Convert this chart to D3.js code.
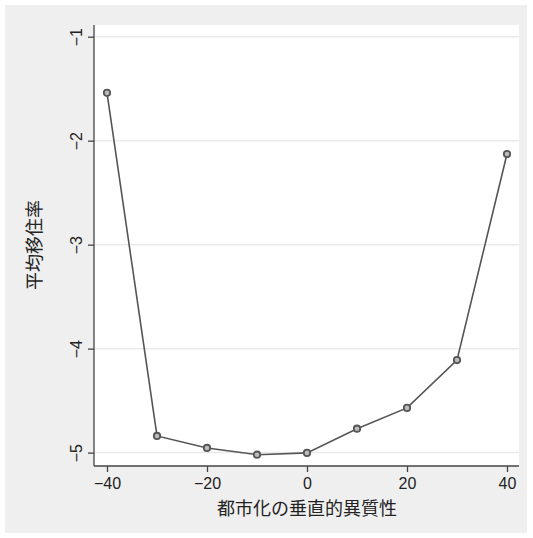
<!DOCTYPE html>
<html><head><meta charset="utf-8">
<script src="https://cdn.jsdelivr.net/npm/d3@7"></script>
<style>body{margin:0;background:#fff}svg{display:block}</style>
</head><body>
<script>
const xValues = [-40, -30, -20, -10, 0, 10, 20, 30, 40];
const yValues = [-1.54, -4.84, -4.955, -5.02, -5.003, -4.77, -4.57, -4.11, -2.128];
const xTicks = [-40, -20, 0, 20, 40];
const yTicks = [-1, -2, -3, -4, -5];
const xTitle = "都市化の垂直的異質性";
const yTitle = "平均移住率";

const W = 533, H = 538;
const svg = d3.select("body").append("svg").attr("width", W).attr("height", H);
svg.append("rect").attr("x", 5).attr("y", 5).attr("width", 522).attr("height", 528).attr("fill", "#efefef");

const L = 94, R = 519, T = 25, B = 466;
svg.append("rect").attr("x", L).attr("y", T).attr("width", R - L).attr("height", B - T).attr("fill", "#fff");

const x = d3.scaleLinear().domain([-42.6, 42.4]).range([L, R]);
const y = d3.scaleLinear().domain([-5.1288, -0.8875]).range([B, T]);

const font = "'Liberation Sans', Arial, sans-serif";
const cjk = "'Noto Sans CJK JP', sans-serif";

// gridlines
svg.append("g").selectAll("line").data(yTicks).join("line")
  .attr("x1", L).attr("x2", R).attr("y1", d => y(d)).attr("y2", d => y(d))
  .attr("stroke", "#eaeaea").attr("stroke-width", 1.5);

// y axis
const yAxis = svg.append("g").attr("transform", `translate(${L},0)`)
  .call(d3.axisLeft(y).tickValues(yTicks).tickSize(6).tickPadding(0).tickFormat(d => "\u2212" + Math.abs(d)));
yAxis.select(".domain").attr("stroke", "#444").attr("stroke-width", 1.3).attr("d", `M0,${T}V${B}`);
yAxis.selectAll(".tick line").attr("stroke", "#444").attr("stroke-width", 1.3);
yAxis.selectAll(".tick text").attr("font-family", font).attr("font-size", 16).attr("fill", "#222")
  .attr("transform", "rotate(-90)").attr("x", 0).attr("y", -12).attr("dy", 0).attr("text-anchor", "middle");

// x axis
const xAxis = svg.append("g").attr("transform", `translate(0,${B})`)
  .call(d3.axisBottom(x).tickValues(xTicks).tickSize(6).tickPadding(6).tickFormat(d => d < 0 ? "\u2212" + Math.abs(d) : d));
xAxis.select(".domain").attr("stroke", "#444").attr("stroke-width", 1.3).attr("d", `M${L},0H${R}`);
xAxis.selectAll(".tick line").attr("stroke", "#444").attr("stroke-width", 1.3);
xAxis.selectAll(".tick text").attr("font-family", font).attr("font-size", 16).attr("fill", "#222");

// titles
svg.append("text").attr("x", 307).attr("y", 515).attr("text-anchor", "middle")
  .attr("font-family", cjk).attr("font-size", 18).attr("fill", "#222").text(xTitle);
svg.append("text").attr("transform", "translate(41,245) rotate(-90)").attr("text-anchor", "middle")
  .attr("font-family", cjk).attr("font-size", 18).attr("fill", "#222").text(yTitle);

// line
const data = xValues.map((v, i) => [v, yValues[i]]);
svg.append("path").datum(data)
  .attr("d", d3.line().x(d => x(d[0])).y(d => y(d[1])))
  .attr("fill", "none").attr("stroke", "#555").attr("stroke-width", 1.6);
svg.append("g").selectAll("circle").data(data).join("circle")
  .attr("cx", d => x(d[0])).attr("cy", d => y(d[1])).attr("r", 3.2)
  .attr("fill", "#bbb").attr("stroke", "#555").attr("stroke-width", 1.8);
</script>
</body></html>
